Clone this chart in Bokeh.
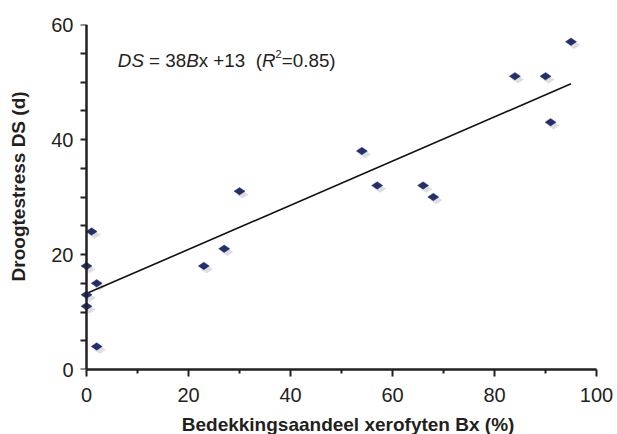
from bokeh.plotting import figure
from bokeh.models import Range1d, FixedTicker, Label, ColumnDataSource, LinearAxis
from bokeh.transform import dodge
from bokeh.embed import file_html
from bokeh.resources import INLINE
import math

# ---- data ----
bx = [1, 0, 2, 0, 0, 2, 23, 27, 30, 54, 57, 66, 68, 84, 90, 91, 95]
ds = [24, 18, 15, 13, 11, 4, 18, 21, 31, 38, 32, 32, 30, 51, 51, 43, 57]
fit_x = [0, 95]
fit_y = [13.2, 49.7]
x_ticks = [0, 20, 40, 60, 80, 100]
x_minor = [10, 30, 50, 70, 90]
y_ticks = [0, 20, 40, 60]
y_all_ticks = [0, 5, 10, 15, 20, 25, 30, 35, 40, 45, 50, 55, 60]
x_title = "Bedekkingsaandeel xerofyten Bx (%)"
y_title = "Droogtestress DS (d)"

TXT = "#231f20"
FONT = "Liberation Sans"
PAD = "\u00a0" * 4   # shifts the centred axis titles like in the reference

p = figure(output_backend="svg", toolbar_location=None,
           x_range=Range1d(-8 / 5.1, 100), y_range=Range1d(0, 60),
           frame_width=518, frame_height=345,
           min_border_left=78, min_border_right=21,
           min_border_top=24, min_border_bottom=65)
p.outline_line_color = None
p.xgrid.visible = False
p.ygrid.visible = False
p.background_fill_color = "white"
p.border_fill_color = "white"

def style_axis(ax, ticks, minor):
    ax.ticker = FixedTicker(ticks=ticks, minor_ticks=minor)
    ax.axis_line_width = 2.5
    ax.axis_line_color = TXT
    ax.major_tick_line_width = 2
    ax.minor_tick_line_width = 2
    ax.major_tick_line_color = TXT
    ax.minor_tick_line_color = TXT
    ax.major_tick_in = 0
    ax.minor_tick_in = 0
    ax.major_label_text_font = FONT
    ax.major_label_text_font_size = "20px"
    ax.major_label_text_color = TXT
    ax.axis_label_text_font = FONT
    ax.axis_label_text_font_style = "bold"
    ax.axis_label_text_color = TXT

# x axis
xa = p.xaxis[0]
style_axis(xa, x_ticks, x_minor)
xa.bounds = (0, 100)
xa.major_tick_out = 7
xa.minor_tick_out = 4
xa.major_label_standoff = 11
xa.axis_label = PAD + x_title
xa.axis_label_text_font_size = "19px"
xa.axis_label_standoff = 9

# y axis line and ticks at x = 0
ya = p.yaxis[0]
style_axis(ya, [], y_all_ticks)
ya.bounds = (0, 60)
ya.fixed_location = 0
ya.minor_tick_out = 6

# y tick labels and title
ya2 = LinearAxis()
style_axis(ya2, y_ticks, [])
ya2.bounds = (0, 60)
ya2.axis_line_color = None
ya2.major_tick_line_color = None
ya2.minor_tick_line_color = None
ya2.major_tick_out = 0
ya2.minor_tick_out = 0
ya2.major_label_standoff = 5
ya2.axis_label = PAD + y_title
ya2.axis_label_text_font_size = "19px"
ya2.axis_label_standoff = 19
p.add_layout(ya2, "left")

src = ColumnDataSource(dict(bx=bx, ds=ds))
p.scatter(dodge("bx", 0.6, range=p.x_range), dodge("ds", -0.55, range=p.y_range),
          source=src, marker="diamond", angle=math.pi / 2, size=12,
          fill_color="#a0a0a0", fill_alpha=0.35, line_color=None)
p.line(fit_x, fit_y, line_color="#111111", line_width=1.6)
p.scatter("bx", "ds", source=src, marker="diamond", angle=math.pi / 2, size=11,
          fill_color="#222e6e", line_color="#222e6e", line_width=0.5)

# ---- equation annotation ----
ax0, ay0 = 6.14, 53.7
eq = [("DS", "italic", 0, 18.8, 0), ("= 38", "normal", 31.3, 18.8, 0),
      ("B", "italic", 68.4, 18.8, 0), ("x +13", "normal", 80.9, 18.8, 0),
      ("(", "normal", 137.9, 18.8, 0), ("R", "italic", 144.2, 18.8, 0),
      ("2", "normal", 157.8, 11, 7), ("=0.85)", "normal", 164.0, 18.8, 0)]
for txt, st, off, fs, yo in eq:
    p.add_layout(Label(x=ax0, y=ay0, x_offset=off, y_offset=yo, text=txt,
                       text_font=FONT, text_font_style=st,
                       text_font_size=f"{fs}px", text_color=TXT,
                       text_baseline="alphabetic", text_align="left"))

open("out.html", "w").write(file_html(p, INLINE))
